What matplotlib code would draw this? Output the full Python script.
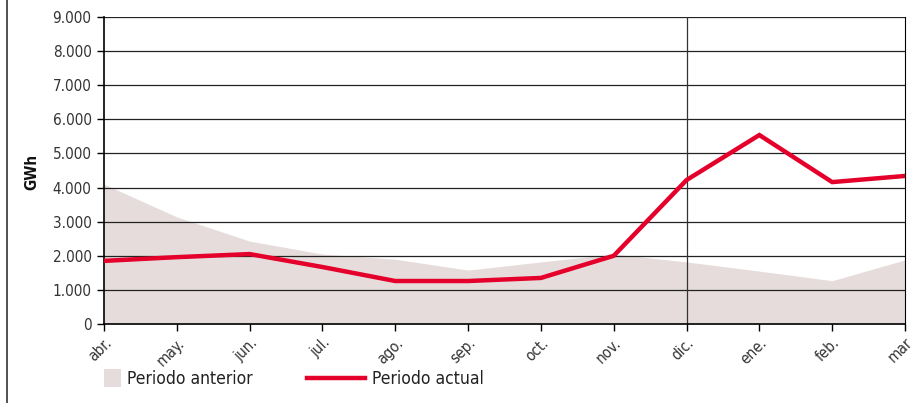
import matplotlib
matplotlib.use("Agg")
import matplotlib.pyplot as plt
from matplotlib.ticker import FuncFormatter
from matplotlib.patches import Rectangle
from matplotlib.lines import Line2D

months = ["abr.", "may.", "jun.", "jul.", "ago.", "sep.", "oct.", "nov.", "dic.", "ene.", "feb.", "mar"]
periodo_anterior = [4100, 3140, 2430, 2050, 1900, 1580, 1820, 2050, 1820, 1550, 1270, 1880]
periodo_actual = [1850, 1960, 2050, 1670, 1260, 1260, 1350, 2000, 4220, 5540, 4160, 4340]
yticks = [0, 1000, 2000, 3000, 4000, 5000, 6000, 7000, 8000, 9000]

plt.rcParams['font.family'] = ['DejaVu Sans']
plt.rcParams['font.stretch'] = 'condensed'

fig = plt.figure(figsize=(9.16, 4.03), dpi=100)
ax = fig.add_axes([104/916, 1-324/403, (905-104)/916, (324-17)/403])

x = list(range(len(months)))
fill_color = "#E6DCDC"
red = "#E4002B"

ax.fill_between(x, 0, periodo_anterior, color=fill_color, lw=0, zorder=1)
for v in yticks[1:]:
    ax.axhline(v, color="#222222", lw=0.9, zorder=2)
ax.axvline(8, color="#333333", lw=0.9, zorder=2)
ax.plot(x, periodo_actual, color=red, lw=3.2, zorder=3, solid_joinstyle='miter')

ax.set_xlim(0, 11)
ax.set_ylim(0, 9000)
ax.set_yticks(yticks)
ax.yaxis.set_major_formatter(FuncFormatter(lambda v, p: f"{int(v):,}".replace(",", ".")))
ax.set_xticks(x)
ax.set_xticklabels(months, rotation=45, ha='right', va='top', rotation_mode='anchor')
ax.tick_params(axis='both', direction='out', length=5, width=1, color='black', labelsize=11, labelcolor='#333333')
ax.tick_params(axis='x', pad=3)
ax.tick_params(axis='y', pad=4)
for t in ax.get_xticklabels():
    t.set_clip_on(False)

ax.spines['top'].set_visible(False)
ax.spines['right'].set_color('black')
ax.spines['left'].set_linewidth(1.2)
ax.spines['bottom'].set_linewidth(1.2)

fig.text(32/916, 1-172/403, "GWh", rotation=90, ha='center', va='center', fontsize=11, fontweight='bold', color='#111111')

fig.add_artist(Line2D([7/916, 7/916], [0, 1], color='#333333', lw=1.2, transform=fig.transFigure))

fig.add_artist(Rectangle((104/916, 1-387/403), 17/916, 18/403, transform=fig.transFigure, color=fill_color, lw=0))
fig.text(127/916, 1-379/403, "Periodo anterior", ha='left', va='center', fontsize=12.5, color='#222222')
fig.add_artist(Line2D([307/916, 365/916], [1-378/403, 1-378/403], color=red, lw=3.2, transform=fig.transFigure))
fig.text(372/916, 1-379/403, "Periodo actual", ha='left', va='center', fontsize=12.5, color='#222222')

fig.savefig("out.png", dpi=100)
